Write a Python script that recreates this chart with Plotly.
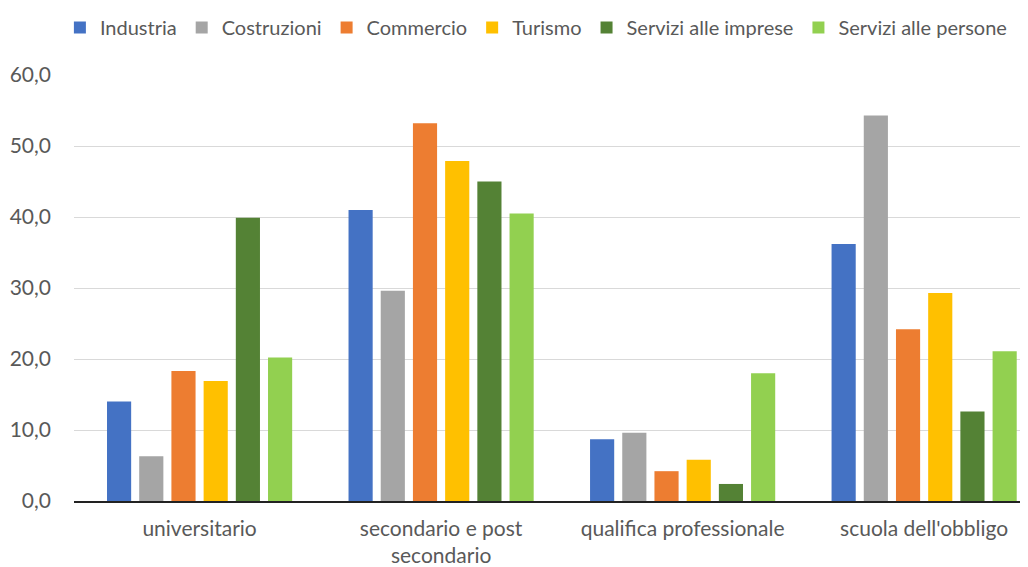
import plotly.graph_objects as go

categories = ["universitario", "secondario e post<br>secondario", "qualifica professionale", "scuola dell'obbligo"]
series_names = ["Industria", "Costruzioni", "Commercio", "Turismo", "Servizi alle imprese", "Servizi alle persone"]
industria = [14.0, 41.0, 8.7, 36.2]
costruzioni = [6.3, 29.6, 9.6, 54.3]
commercio = [18.3, 53.2, 4.2, 24.2]
turismo = [16.9, 47.9, 5.8, 29.3]
servizi_imprese = [39.9, 45.0, 2.4, 12.6]
servizi_persone = [20.2, 40.5, 18.0, 21.1]
colors = ["#4472C4", "#A5A5A5", "#ED7D31", "#FFC000", "#548235", "#92D050"]
yticks = [0, 10, 20, 30, 40, 50, 60]

values = [industria, costruzioni, commercio, turismo, servizi_imprese, servizi_persone]

fig = go.Figure()
for name, vals, col in zip(series_names, values, colors):
    fig.add_trace(go.Bar(x=list(range(len(categories))), y=vals, name=name,
                         marker=dict(color=col, line=dict(width=0))))

font = dict(family="Lato, Noto Sans, sans-serif", size=20, color="#595959")
tick_font = dict(family="Lato, Noto Sans, sans-serif", size=21, color="#595959")
fig.update_layout(
    width=1028, height=567,
    margin=dict(l=66, r=8, t=67, b=74, autoexpand=False),
    paper_bgcolor="white", plot_bgcolor="white",
    barmode="group", bargap=0.2, bargroupgap=0.25,
    font=font,
    separators=",.",
    showlegend=True,
    legend=dict(orientation="h", x=0.514, xanchor="center", xref="container",
                y=1.0, yanchor="top", yref="container", font=font,
                traceorder="normal", itemwidth=30),
    xaxis=dict(tickmode="array", tickvals=list(range(len(categories))), ticktext=categories,
               range=[-0.52, 3.43], showgrid=False, showline=True, linecolor="#222222",
               linewidth=1.5, ticks="", tickfont=tick_font, ticklabelstandoff=8,
               automargin=False),
    yaxis=dict(range=[0, 60], tickvals=yticks, tickformat=".1f", showgrid=True,
               gridcolor="#D9D9D9", gridwidth=1, zeroline=False, showline=False,
               tickfont=tick_font, ticklabelstandoff=22, automargin=False),
)
fig.write_html("out.html")
